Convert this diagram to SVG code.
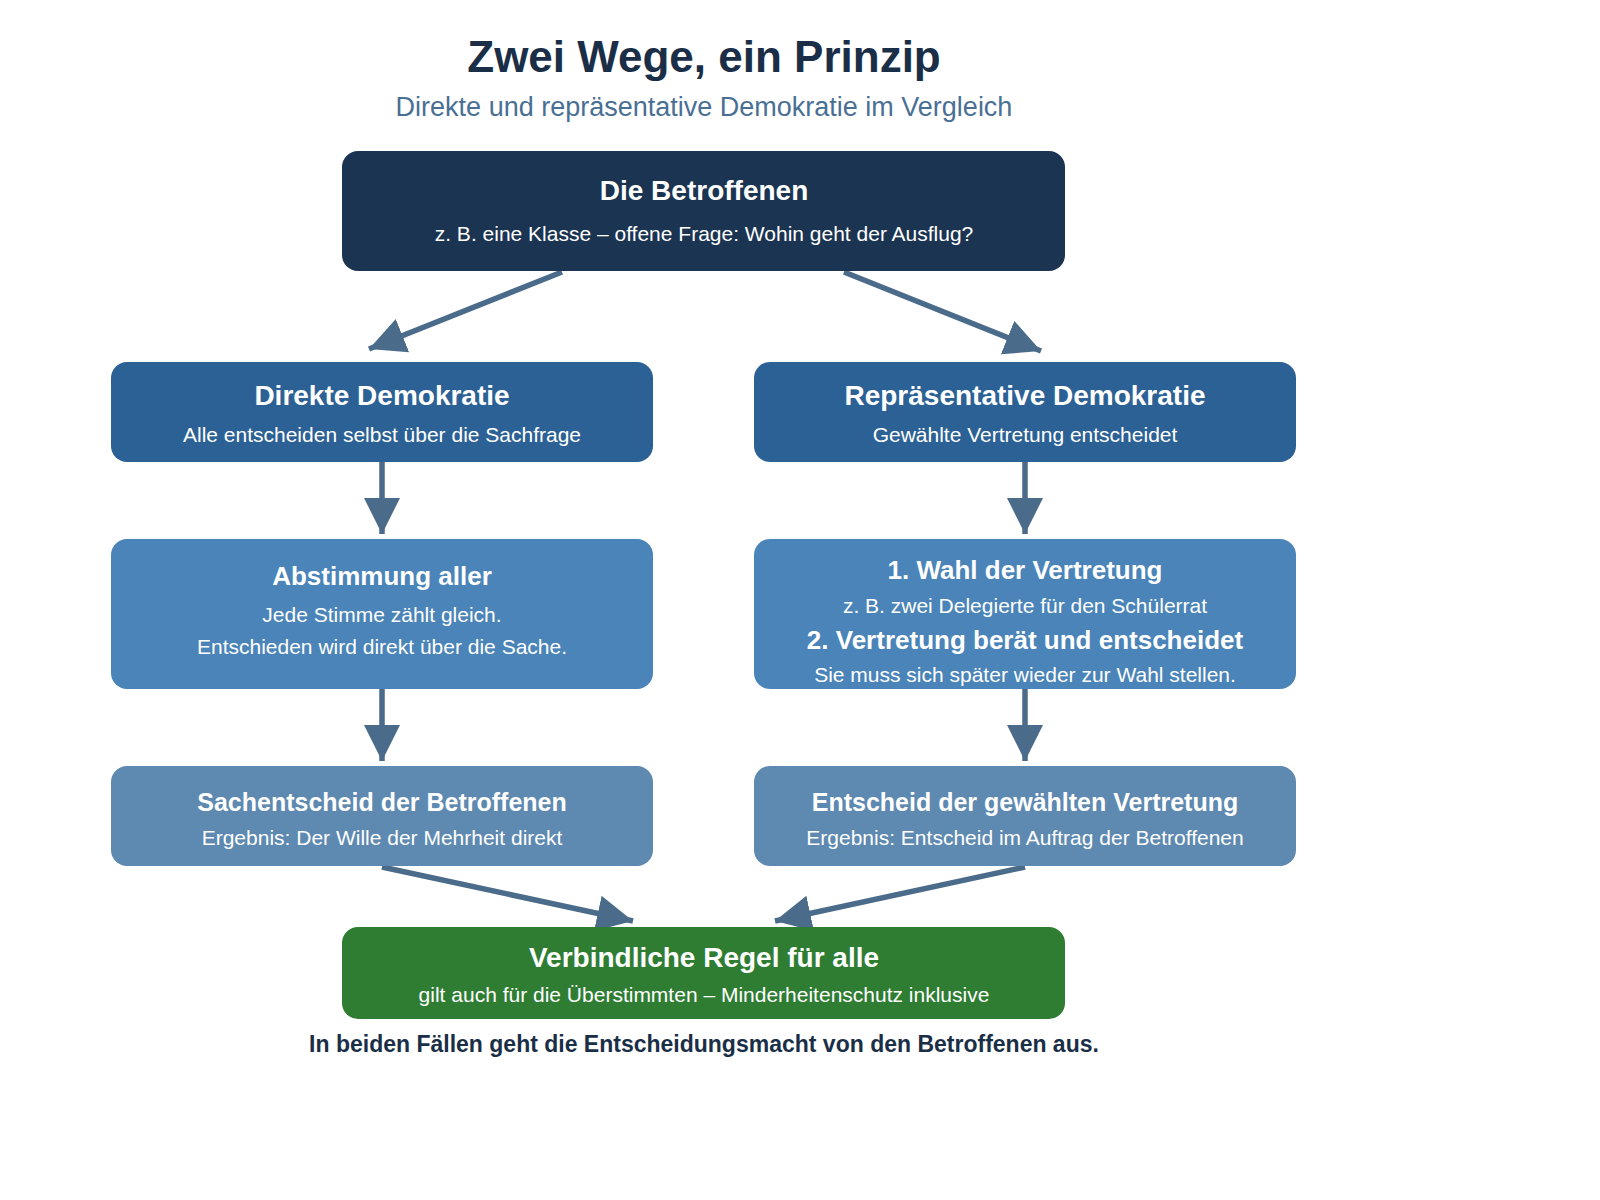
<svg xmlns="http://www.w3.org/2000/svg" width="1600" height="1200" viewBox="0 0 1600 1200">
<style>
text{font-family:"Liberation Sans",Arial,sans-serif;text-anchor:middle}
.t{font-weight:bold;fill:#fff;font-size:28px}
.s{fill:#fff;font-size:21px}
.c{stroke:#4a6b8a;stroke-width:5.5;fill:none;marker-end:url(#a)}
</style>
<defs><marker id="a" markerUnits="userSpaceOnUse" markerWidth="40" markerHeight="40" refX="36" refY="18" orient="auto"><path d="M0,0 L36,18 L0,36 Z" fill="#4a6b8a"/></marker></defs>
<rect width="1600" height="1200" fill="#fff"/>
<text x="704" y="72" style="font-size:44px;font-weight:bold;fill:#1a2f47">Zwei Wege, ein Prinzip</text>
<text x="704" y="116" style="font-size:27px;fill:#4a6f94">Direkte und repräsentative Demokratie im Vergleich</text>
<g id="connectors">
<line class="c" x1="562" y1="272" x2="369" y2="349"/>
<line class="c" x1="844" y1="272" x2="1041" y2="351"/>
<line class="c" x1="382" y1="462" x2="382" y2="534"/>
<line class="c" x1="1025" y1="462" x2="1025" y2="534"/>
<line class="c" x1="382" y1="689" x2="382" y2="761"/>
<line class="c" x1="1025" y1="689" x2="1025" y2="761"/>
<line class="c" x1="382" y1="867" x2="633" y2="921"/>
<line class="c" x1="1025" y1="867" x2="775" y2="921"/>
</g>
<g id="top"><rect x="342" y="151" width="723" height="120" rx="16" fill="#1a3452"/>
<text class="t" x="704" y="200">Die Betroffenen</text><text class="s" x="704" y="241">z. B. eine Klasse – offene Frage: Wohin geht der Ausflug?</text></g>
<g id="direkt"><rect x="111" y="362" width="542" height="100" rx="16" fill="#2c6195"/>
<text class="t" x="382" y="405">Direkte Demokratie</text><text class="s" x="382" y="442">Alle entscheiden selbst über die Sachfrage</text></g>
<g id="repr"><rect x="754" y="362" width="542" height="100" rx="16" fill="#2c6195"/>
<text class="t" x="1025" y="405">Repräsentative Demokratie</text><text class="s" x="1025" y="442">Gewählte Vertretung entscheidet</text></g>
<g id="abst"><rect x="111" y="539" width="542" height="150" rx="16" fill="#4a84b8"/>
<text class="t" x="382" y="585" style="font-size:26px">Abstimmung aller</text><text class="s" x="382" y="622">Jede Stimme zählt gleich.</text><text class="s" x="382" y="654">Entschieden wird direkt über die Sache.</text></g>
<g id="wahl"><rect x="754" y="539" width="542" height="150" rx="16" fill="#4a84b8"/>
<text class="t" x="1025" y="579" style="font-size:26px">1. Wahl der Vertretung</text><text class="s" x="1025" y="613">z. B. zwei Delegierte für den Schülerrat</text>
<text class="t" x="1025" y="649" style="font-size:26px">2. Vertretung berät und entscheidet</text><text class="s" x="1025" y="682">Sie muss sich später wieder zur Wahl stellen.</text></g>
<g id="sach"><rect x="111" y="766" width="542" height="100" rx="16" fill="#5e89b0"/>
<text class="t" x="382" y="811" style="font-size:25px">Sachentscheid der Betroffenen</text><text class="s" x="382" y="845">Ergebnis: Der Wille der Mehrheit direkt</text></g>
<g id="entsch"><rect x="754" y="766" width="542" height="100" rx="16" fill="#5e89b0"/>
<text class="t" x="1025" y="811" style="font-size:25px">Entscheid der gewählten Vertretung</text><text class="s" x="1025" y="845">Ergebnis: Entscheid im Auftrag der Betroffenen</text></g>
<g id="regel"><rect x="342" y="927" width="723" height="92" rx="16" fill="#2e7d32"/>
<text class="t" x="704" y="967">Verbindliche Regel für alle</text><text class="s" x="704" y="1002">gilt auch für die Überstimmten – Minderheitenschutz inklusive</text></g>
<text x="704" y="1052" style="font-size:23px;font-weight:bold;fill:#1a2f47">In beiden Fällen geht die Entscheidungsmacht von den Betroffenen aus.</text>
</svg>
